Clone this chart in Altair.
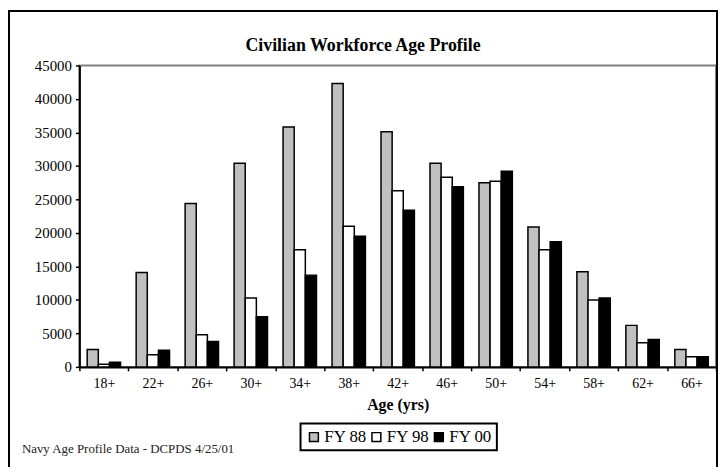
import altair as alt
import pandas as pd

ages = ["18+", "22+", "26+", "30+", "34+", "38+", "42+", "46+", "50+", "54+", "58+", "62+", "66+"]
series = ["FY 88", "FY 98", "FY 00"]
fy88 = [2600, 14100, 24400, 30400, 35800, 42300, 35100, 30400, 27500, 20900, 14200, 6200, 2600]
fy98 = [400, 1800, 4800, 10300, 17500, 21000, 26300, 28300, 27700, 17500, 10000, 3600, 1500]
fy00 = [700, 2500, 3800, 7500, 13700, 19500, 23400, 26900, 29200, 18700, 10300, 4100, 1500]
colors = ["#C0C0C0", "#FFFFFF", "#000000"]
y_ticks = [0, 5000, 10000, 15000, 20000, 25000, 30000, 35000, 40000, 45000]
chart_title = "Civilian Workforce Age Profile"
footnote = "Navy Age Profile Data - DCPDS 4/25/01"

rows = []
for i, a in enumerate(ages):
    for s, vals in zip(series, [fy88, fy98, fy00]):
        rows.append({"age": a, "series": s, "value": vals[i]})
df = pd.DataFrame(rows)

FONT = "Liberation Serif"

bars = alt.Chart(df).mark_bar(stroke="black", strokeWidth=1.5).encode(
    x=alt.X("age:N", sort=ages,
            scale=alt.Scale(paddingInner=0, paddingOuter=0),
            axis=alt.Axis(title="Age (yrs)", labelAngle=0, tickBand="extent",
                          labelFontSize=14, labelPadding=6, tickSize=4,
                          titleFontSize=16, titleFontWeight="bold", titlePadding=6)),
    xOffset=alt.XOffset("series:N", sort=series,
                        scale=alt.Scale(paddingInner=0, paddingOuter=0.7)),
    y=alt.Y("value:Q", scale=alt.Scale(domain=[0, 45000], nice=False),
            axis=alt.Axis(title=None, values=y_ticks, format="d",
                          labelFontSize=15, tickSize=4, labelPadding=4)),
    fill=alt.Fill("series:N", sort=series,
                  scale=alt.Scale(domain=series, range=colors),
                  legend=alt.Legend(title=None, orient="none", legendX=223, legendY=361,
                                    direction="horizontal")),
)

head = alt.Chart(alt.Data(values=[{"t": chart_title}])).mark_text(
    align="center", baseline="middle", font=FONT, fontSize=18, fontWeight="bold", color="black"
).encode(text="t:N", x=alt.value(286), y=alt.value(-20))

note = alt.Chart(alt.Data(values=[{"t": footnote}])).mark_text(
    align="left", baseline="middle", font=FONT, fontSize=13, color="#222222"
).encode(text="t:N", x=alt.value(-58), y=alt.value(387))

frame = alt.Chart(alt.Data(values=[{}])).mark_rect(
    fill=None, fillOpacity=0, stroke="black", strokeWidth=2
).encode(x=alt.value(-71), x2=alt.value(643), y=alt.value(-55), y2=alt.value(520))

chart = alt.layer(bars, head, note, frame).properties(
    width=642, height=304,
    autosize=alt.AutoSizeParams(type="none"),
    padding={"left": 72, "top": 56, "right": 2, "bottom": 99},
).configure(
    font=FONT,
).configure_view(
    stroke="#808080", strokeWidth=2
).configure_axis(
    labelFont=FONT, titleFont=FONT, labelColor="black", titleColor="black",
    domainColor="black", domainWidth=2, tickColor="black", tickWidth=1.5, grid=False,
).configure_legend(
    labelFont=FONT, labelFontSize=17, labelColor="black",
    strokeColor="black", strokeWidth=2, padding=5,
    symbolType="square", symbolSize=80, symbolStrokeColor="black", symbolStrokeWidth=1.5,
    columnPadding=1, labelOffset=2,
)

chart.save("out.html", embed_options={"renderer": "svg", "actions": False})
